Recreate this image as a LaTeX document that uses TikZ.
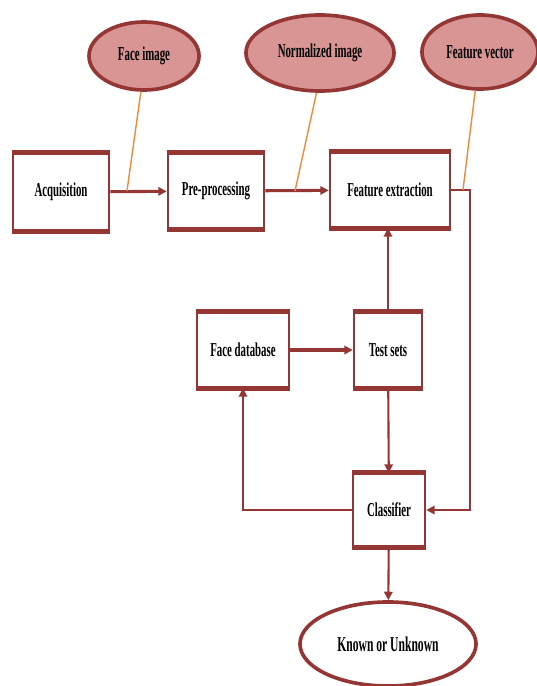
\documentclass[tikz,border=0pt]{standalone}
\usepackage{fontspec}
\newfontfamily\diagfont[FakeStretch=0.55]{Liberation Serif}
\usetikzlibrary{arrows.meta,shapes.geometric}

\definecolor{darkred}{HTML}{943634}
\definecolor{rosefill}{HTML}{D99594}
\definecolor{tieorange}{HTML}{F0883A}

\begin{document}
\begin{tikzpicture}[
      x=0.025cm, y=-0.025cm,
      >={Triangle[length=6pt,width=6pt]},
      every node/.style={font=\diagfont\bfseries\fontsize{14}{16}\selectfont},
      stage/.style={draw=darkred, line width=1.8pt, fill=white, align=center,
        append after command={
          (\tikzlastnode.north west) edge[draw=darkred, line width=3.8pt, -] (\tikzlastnode.north east)
          (\tikzlastnode.south west) edge[draw=darkred, line width=3.8pt, -] (\tikzlastnode.south east)}},
      datum/.style={draw=darkred, line width=2.6pt, fill=rosefill, ellipse},
      flow/.style={draw=darkred, line width=2.2pt, ->},
      link/.style={draw=darkred, line width=1.5pt, ->},
      tie/.style={draw=tieorange, line width=1pt}
    ]
    \useasboundingbox (0,0) rectangle (537,686);

    % Etapas principales
    \node[stage, minimum width=2.4cm, minimum height=1.9cm] (acq) at (61,192) {Acquisition};
    \node[stage, minimum width=2.4cm, minimum height=1.85cm] (pre) at (216,191) {Pre-processing};
    \node[stage, minimum width=3cm, minimum height=1.85cm] (fe) at (390,190) {Feature extraction};
    \node[stage, minimum width=2.3cm, minimum height=1.85cm] (db) at (243,350) {Face database};
    \node[stage, minimum width=1.7cm, minimum height=1.85cm] (test) at (388,350) {Test sets};
    \node[stage, minimum width=1.8cm, minimum height=1.8cm] (cls) at (389,510) {Classifier};

    % Datos intermedios
    \node[datum, minimum width=2.75cm, minimum height=1.7cm] (fimg) at (144,56) {Face image};
    \node[datum, minimum width=3.7cm, minimum height=1.9cm] (nimg) at (320,53) {Normalized image};
    \node[datum, minimum width=2.9cm, minimum height=1.85cm] (fvec) at (480,52) {Feature vector};

    % Resultado
    \node[draw=darkred, line width=2.6pt, fill=white, ellipse,
      minimum width=4.4cm, minimum height=2.1cm,
      font=\diagfont\bfseries\fontsize{15}{17}\selectfont] (out) at (388,644) {Known or Unknown};

    % Flechas
    \draw[flow] (acq) -- (pre);
    \draw[flow] (pre) -- (fe);
    \draw[flow] (db) -- (test);
    \draw[link] (test.north) -- (test.north |- fe.south);
    \draw[link] (test) -- (cls);
    \draw[link] (cls) -- (out);

    \coordinate (rt) at (470,0);
    \draw[link] (fe.east) -- (fe.east -| rt) |- (cls.east);
    \draw[link] (cls.west) -| (db.south);

    % Lineas de dato
    \coordinate (t1) at (127,191);
    \coordinate (t2) at (295,191);
    \coordinate (t3) at (463,190);
    \draw[tie] (fimg.265) -- (t1);
    \draw[tie] (nimg.265) -- (t2);
    \draw[tie] (fvec.263) -- (t3);

  \end{tikzpicture}
\end{document}
